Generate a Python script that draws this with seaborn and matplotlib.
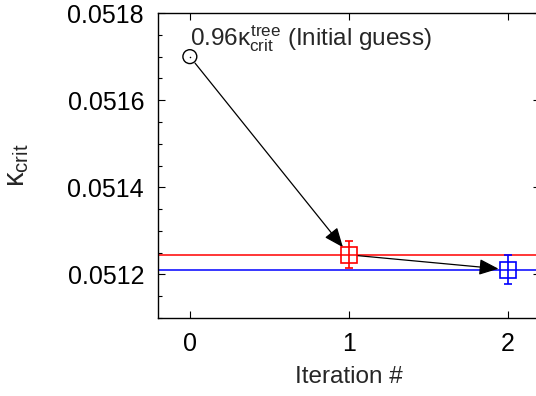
import matplotlib
matplotlib.use("Agg")
import matplotlib.pyplot as plt
from matplotlib.ticker import MultipleLocator
import seaborn as sns
import pandas as pd

# data
iterations = [0, 1, 2]
kappa_crit = [0.051700, 0.051245, 0.051211]
kappa_err = [0.0, 0.000031, 0.000033]
point_colors = ["black", "red", "blue"]
guess_label = r"$0.96\kappa_{\rm crit}^{\rm tree}$ (Initial guess)"

sns.set_style("ticks")
plt.rcParams["font.family"] = ["Liberation Sans", "DejaVu Sans"]
plt.rcParams["mathtext.fontset"] = "custom"
plt.rcParams["mathtext.rm"] = "Liberation Sans"
plt.rcParams["mathtext.it"] = "Liberation Sans"

fig = plt.figure(figsize=(5.36, 3.96), dpi=100)
ax = fig.add_axes([0.2948, 0.197, 0.7127, 0.770])

df = pd.DataFrame({"it": iterations, "k": kappa_crit, "err": kappa_err})

# converged values as horizontal lines
ax.axhline(kappa_crit[1], color="red", lw=1.1, zorder=1)
ax.axhline(kappa_crit[2], color="blue", lw=1.1, zorder=1)

# initial guess: open circle with centre dot
sns.scatterplot(data=df.iloc[:1], x="it", y="k", ax=ax, marker="o", s=100,
                facecolor="none", edgecolor="black", linewidth=1.0, zorder=3)
sns.scatterplot(data=df.iloc[:1], x="it", y="k", ax=ax, marker=".", s=5,
                color="black", linewidth=0, zorder=4)

# later iterations: open squares with error bars
for i in (1, 2):
    ax.errorbar(iterations[i], kappa_crit[i], yerr=kappa_err[i], fmt="s",
                ms=11, mfc="none", mec=point_colors[i], mew=1.2,
                ecolor=point_colors[i], elinewidth=1.2, capsize=3, capthick=1.2,
                zorder=3)

# arrows between successive iterations
for a, b in ((0, 1), (1, 2)):
    ax.annotate("", xy=(iterations[b], kappa_crit[b]),
                xytext=(iterations[a], kappa_crit[a]),
                arrowprops=dict(arrowstyle="-|>,head_length=0.85,head_width=0.35",
                                color="black", lw=0.9, shrinkA=6, shrinkB=7,
                                mutation_scale=14),
                zorder=2)

ax.text(0.0, 0.051742, guess_label, fontsize=17.5, ha="left", va="center")

ax.set_xlim(-0.2, 2.2)
ax.set_ylim(0.0511, 0.0518)
ax.set_xticks(iterations)
ax.yaxis.set_minor_locator(MultipleLocator(0.00005))
ax.set_yticks([0.0512, 0.0514, 0.0516, 0.0518])
ax.set_yticklabels(["0.0512", "0.0514", "0.0516", "0.0518"])
ax.tick_params(which="both", direction="in", top=True, right=True,
               labelsize=18, pad=10, width=0.8, colors="black")
ax.tick_params(which="major", length=5)
ax.tick_params(which="minor", length=3)
ax.set_xlabel("Iteration #", fontsize=17.5, labelpad=7)
ax.set_ylabel(r"$\kappa_{\rm crit}$", fontsize=21, labelpad=26)
for sp in ax.spines.values():
    sp.set_color("black")
    sp.set_linewidth(1.0)

fig.savefig("out.png", dpi=100)
